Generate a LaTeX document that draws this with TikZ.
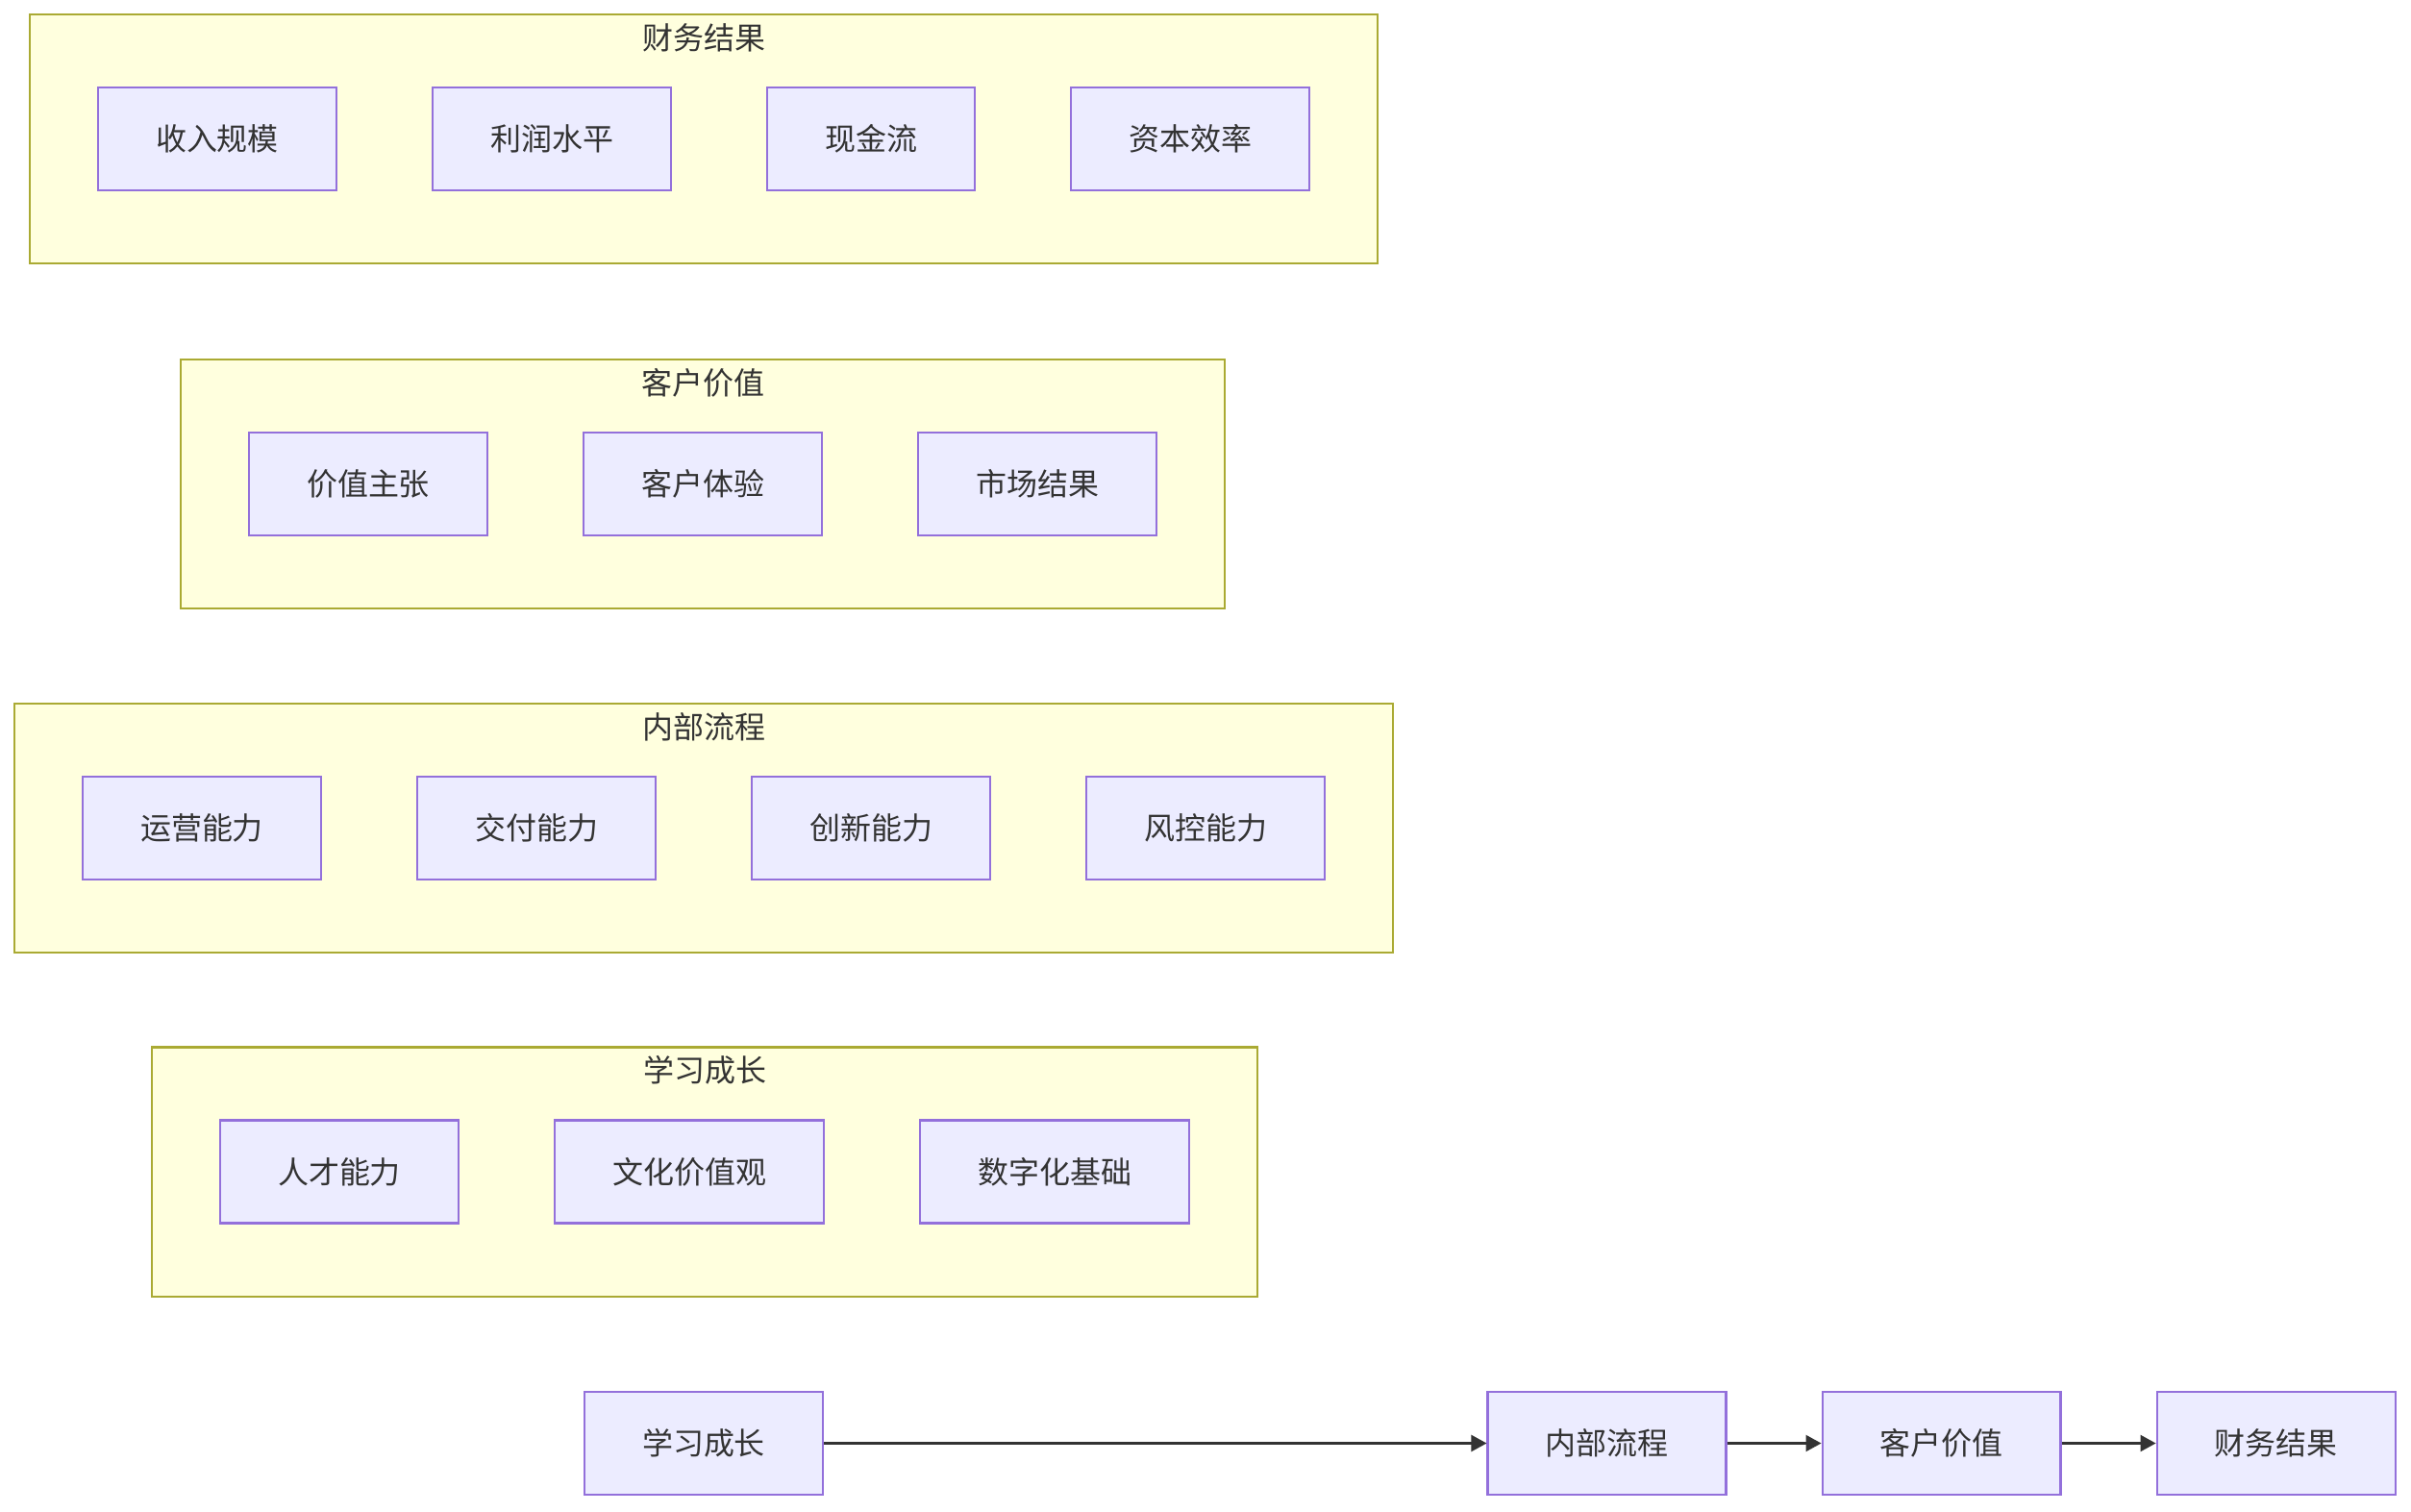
\documentclass[tikz,border=0pt]{standalone}
\usepackage{fontspec}
\setmainfont{Noto Sans CJK SC}
\usetikzlibrary{arrows.meta,positioning,fit,backgrounds}
\definecolor{NodeFill}{HTML}{ECECFF}
\definecolor{NodeLine}{HTML}{9370DB}
\definecolor{GroupFill}{HTML}{FFFFDE}
\definecolor{GroupLine}{HTML}{AAAA33}
\definecolor{InkGray}{HTML}{333333}

\begin{document}
\begin{tikzpicture}[
  node distance=0.98cm and 0.98cm, % gap between neighbouring boxes in a row
  box/.style={draw=NodeLine, line width=0.6pt, fill=NodeFill, text=InkGray,
    inner xsep=0.6cm, inner ysep=0pt, minimum height=1.07cm,
    font=\fontsize{9.1pt}{11pt}\selectfont},
  group/.style={draw=GroupLine, line width=0.6pt, fill=GroupFill,
    inner xsep=0.7cm, inner ysep=0.75cm},
  grouplabel/.style={text=InkGray, font=\fontsize{9.1pt}{11pt}\selectfont},
  arrow/.style={-{Triangle[length=0.16cm, width=0.17cm]}, line width=0.6pt, draw=InkGray}
]
\useasboundingbox (0,0) rectangle (25.08,15.72);

% --- Row 1: financial results ---
\node[box] (revenue) at (2.26,14.275) {收入规模};
\node[box, right=of revenue] (profit) {利润水平};
\node[box, right=of profit] (cashflow) {现金流};
\node[box, right=of cashflow] (capital) {资本效率};

% --- Row 2: customer value ---
\node[box] (proposition) at (3.83,10.685) {价值主张};
\node[box, right=of proposition] (experience) {客户体验};
\node[box, right=of experience] (market) {市场结果};

% --- Row 3: internal process ---
\node[box] (operation) at (2.10,7.105) {运营能力};
\node[box, right=of operation] (delivery) {交付能力};
\node[box, right=of delivery] (innovation) {创新能力};
\node[box, right=of innovation] (risk) {风控能力};

% --- Row 4: learning and growth ---
\node[box] (talent) at (3.53,3.53) {人才能力};
\node[box, right=of talent] (culture) {文化价值观};
\node[box, right=of culture] (digital) {数字化基础};

% --- Bottom chain ---
\node[box] (learnStep) at (7.32,0.705) {学习成长};
\node[box] (processStep) at (16.715,0.705) {内部流程};
\node[box, right=of processStep] (customerStep) {客户价值};
\node[box, right=of customerStep] (financeStep) {财务结果};

% --- Groups behind the rows ---
\begin{scope}[on background layer]
  \node[group, fit=(revenue)(capital)] (financeGroup) {};
  \node[group, fit=(proposition)(market)] (customerGroup) {};
  \node[group, fit=(operation)(risk)] (processGroup) {};
  \node[group, fit=(talent)(digital)] (learnGroup) {};
\end{scope}
\node[grouplabel] at ([yshift=-0.25cm]financeGroup.north) {财务结果};
\node[grouplabel] at ([yshift=-0.25cm]customerGroup.north) {客户价值};
\node[grouplabel] at ([yshift=-0.25cm]processGroup.north) {内部流程};
\node[grouplabel] at ([yshift=-0.25cm]learnGroup.north) {学习成长};

% --- Arrows ---
\draw[arrow] (learnStep) -- (processStep);
\draw[arrow] (processStep) -- (customerStep);
\draw[arrow] (customerStep) -- (financeStep);

\end{tikzpicture}
\end{document}
